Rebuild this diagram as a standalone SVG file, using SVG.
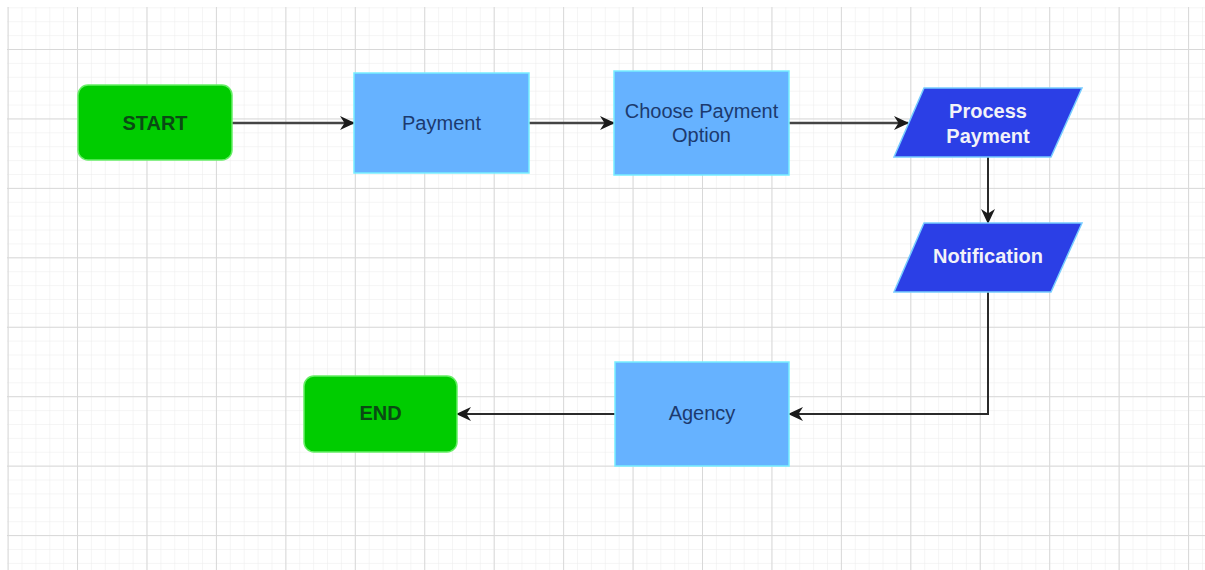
<svg xmlns="http://www.w3.org/2000/svg" width="1205" height="570" viewBox="0 0 1205 570">
  <defs>
    <pattern id="minor" patternUnits="userSpaceOnUse" x="7.6" y="-20.44" width="13.888" height="13.888">
      <path d="M0,0 H13.888 M0,0 V13.888" fill="none" stroke="#ececec" stroke-width="1"/>
    </pattern>
    <pattern id="major" patternUnits="userSpaceOnUse" x="7.6" y="-20.44" width="69.44" height="69.44">
      <path d="M0,0.5 H69.44 M0.5,0 V69.44" fill="none" stroke="#d8d8d8" stroke-width="1"/>
    </pattern>
    <marker id="arrow" markerUnits="userSpaceOnUse" viewBox="0 0 15 14" refX="14" refY="7" markerWidth="15" markerHeight="14" orient="auto">
      <path d="M0,0 L15,7 L0,14 L4.5,7 Z" fill="#1a1a1a"/>
    </marker>
  </defs>
  <style>
    .grn { fill: #00cc00; stroke: #66ee66; stroke-width: 1.5; }
    .lb { fill: #66b2ff; stroke: #77eeff; stroke-width: 1.5; }
    .db { fill: #2b3fe6; stroke: #77ccff; stroke-width: 1.5; }
    .t { font-family: "Liberation Sans", Arial, sans-serif; font-size: 20px; text-anchor: middle; }
    .tg { fill: #0a4a14; font-weight: bold; }
    .tb { fill: #1c3a6e; }
    .tw { fill: #f2f2f8; font-weight: bold; }
    .c { fill: none; stroke: #2a2a2a; stroke-width: 2; marker-end: url(#arrow); }
    .c1 { stroke: #444; stroke-width: 2.5; }
  </style>
  <rect x="0" y="0" width="1205" height="570" fill="#ffffff"/>
  <rect x="7" y="7" width="1198" height="563" fill="url(#minor)"/>
  <rect x="7" y="7" width="1198" height="563" fill="url(#major)"/>

  <g id="connectors">
    <path class="c c1" d="M232,123 H354"/>
    <path class="c c1" d="M529,123 H614"/>
    <path class="c c1" d="M789,123 H908"/>
    <path class="c" d="M988,157 V223"/>
    <path class="c" d="M988,292 V414 H789"/>
    <path class="c" d="M615,414 H457"/>
  </g>

  <g id="start">
    <rect class="grn" x="78" y="85" width="154" height="75" rx="10"/>
    <text class="t tg" x="155" y="130" font-size="19">START</text>
  </g>
  <g id="payment">
    <rect class="lb" x="354" y="73" width="175" height="100"/>
    <text class="t tb" x="441.5" y="130">Payment</text>
  </g>
  <g id="choose">
    <rect class="lb" x="614" y="71" width="175" height="104"/>
    <text class="t tb" x="701.5" y="118">Choose Payment</text>
    <text class="t tb" x="701.5" y="142">Option</text>
  </g>
  <g id="process">
    <polygon class="db" points="924,88 1082,88 1051,157 894,157"/>
    <text class="t tw" x="988" y="118">Process</text>
    <text class="t tw" x="988" y="143">Payment</text>
  </g>
  <g id="notification">
    <polygon class="db" points="924,223 1082,223 1051,292 894,292"/>
    <text class="t tw" x="988" y="263">Notification</text>
  </g>
  <g id="agency">
    <rect class="lb" x="615" y="362" width="174" height="104"/>
    <text class="t tb" x="702" y="420">Agency</text>
  </g>
  <g id="end">
    <rect class="grn" x="304" y="376" width="153" height="76" rx="10"/>
    <text class="t tg" x="380.5" y="420" font-size="19">END</text>
  </g>
</svg>
